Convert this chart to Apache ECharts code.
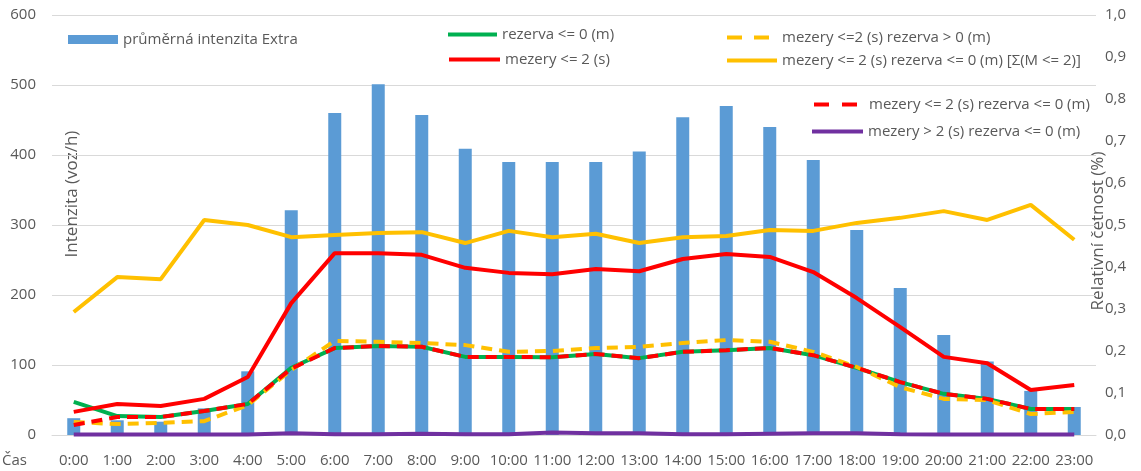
<!DOCTYPE html>
<html>
<head>
<meta charset="utf-8">
<script src="https://cdn.jsdelivr.net/npm/echarts@6/dist/echarts.min.js"></script>
<style>html,body{margin:0;padding:0;background:#fff}#c{width:1141px;height:471px}</style>
</head>
<body>
<div id="c"></div>
<script>
var hours = ['0:00','1:00','2:00','3:00','4:00','5:00','6:00','7:00','8:00','9:00','10:00','11:00','12:00','13:00','14:00','15:00','16:00','17:00','18:00','19:00','20:00','21:00','22:00','23:00'];
var leftTicks = [0, 600, 100];
var rightTicks = [0, 1, 0.1];
var intenzita = [24, 21, 19, 38, 91, 321, 460, 501, 457, 409, 390, 390, 390, 405, 454, 470, 440, 393, 293, 210, 143, 105, 63, 40];
var rezervaLe0 = [0.079, 0.045, 0.043, 0.057, 0.074, 0.160, 0.207, 0.212, 0.210, 0.186, 0.186, 0.185, 0.193, 0.183, 0.198, 0.202, 0.207, 0.190, 0.160, 0.126, 0.098, 0.086, 0.062, 0.062];
var mezeryLe2 = [0.055, 0.074, 0.069, 0.086, 0.138, 0.314, 0.433, 0.433, 0.429, 0.398, 0.386, 0.383, 0.395, 0.390, 0.419, 0.431, 0.424, 0.388, 0.326, 0.257, 0.186, 0.171, 0.107, 0.119];
var mezeryLe2RezGt0 = [0.031, 0.026, 0.029, 0.033, 0.071, 0.155, 0.224, 0.222, 0.219, 0.214, 0.198, 0.200, 0.207, 0.210, 0.219, 0.226, 0.222, 0.198, 0.162, 0.114, 0.086, 0.083, 0.050, 0.055];
var sumMLe2 = [0.293, 0.376, 0.371, 0.512, 0.500, 0.471, 0.476, 0.481, 0.483, 0.457, 0.486, 0.471, 0.479, 0.457, 0.471, 0.474, 0.488, 0.486, 0.505, 0.517, 0.533, 0.512, 0.548, 0.465];
var mezeryLe2RezLe0 = [0.024, 0.043, 0.043, 0.057, 0.074, 0.158, 0.207, 0.212, 0.210, 0.186, 0.186, 0.185, 0.193, 0.183, 0.198, 0.202, 0.207, 0.190, 0.160, 0.126, 0.098, 0.086, 0.062, 0.062];
var mezeryGt2RezLe0 = [0.001, 0.001, 0.001, 0.001, 0.001, 0.004, 0.002, 0.002, 0.003, 0.002, 0.002, 0.006, 0.004, 0.004, 0.002, 0.002, 0.003, 0.004, 0.004, 0.002, 0.001, 0.001, 0.001, 0.001];

var names = ['průměrná intenzita Extra', 'rezerva <= 0 (m)', 'mezery <= 2 (s)', 'mezery <=2 (s) rezerva > 0 (m)', 'mezery <= 2 (s) rezerva <= 0 (m) [Σ(M <= 2)]', 'mezery <= 2 (s) rezerva <= 0 (m)', 'mezery > 2 (s) rezerva <= 0 (m)'];
var FONT = '"Open Sans", sans-serif';
var TXT = '#595959';
var lt = {color: TXT, fontSize: 15, fontFamily: FONT};

function leg(name, left, cy, w, extra) {
  var o = {data: [name], left: left, top: cy - 8, itemWidth: w, itemHeight: 16, padding: 0, textStyle: lt, selectedMode: false,
           itemStyle: {opacity: 0}, lineStyle: {width: 4}};
  for (var k in extra) o[k] = extra[k];
  return o;
}

var chart = echarts.init(document.getElementById('c'));
chart.setOption({
  animation: false,
  backgroundColor: '#fff',
  grid: {left: 52, right: 45, top: 15, bottom: 36},
  legend: [
    leg(names[0], 68, 40, 50, {icon: 'rect', itemHeight: 9, top: 32, itemStyle: {opacity: 1}}),
    leg(names[1], 446, 35, 49, {}),
    leg(names[2], 447, 60, 51, {}),
    leg(names[3], 725, 38, 50, {lineStyle: {width: 4, type: [15, 12]}}),
    leg(names[4], 725, 61, 50, {}),
    leg(names[5], 812, 105, 50, {lineStyle: {width: 4, type: [15, 13]}}),
    leg(names[6], 810, 132, 51, {})
  ],
  xAxis: {
    type: 'category', data: hours, boundaryGap: true,
    axisLine: {lineStyle: {color: '#D9D9D9'}}, axisTick: {show: false},
    axisLabel: {color: TXT, fontSize: 15, fontFamily: FONT, margin: 18, interval: 0}
  },
  yAxis: [
    {type: 'value', min: leftTicks[0], max: leftTicks[1], interval: leftTicks[2],
     axisLine: {show: false}, axisTick: {show: false},
     axisLabel: {color: TXT, fontSize: 15, fontFamily: FONT, margin: 16},
     splitLine: {lineStyle: {color: '#D9D9D9', width: 1}}},
    {type: 'value', min: rightTicks[0], max: rightTicks[1], interval: rightTicks[2],
     axisLine: {show: false}, axisTick: {show: false}, splitLine: {show: false},
     axisLabel: {color: TXT, fontSize: 15, fontFamily: FONT, margin: 9,
       formatter: function (v) { return v.toFixed(1).replace('.', ','); }}}
  ],
  graphic: [
    {type: 'text', x: 72, y: 194, rotation: Math.PI / 2, style: {text: 'Intenzita (voz/h)', fill: TXT, font: '17px ' + FONT, textAlign: 'center', textVerticalAlign: 'middle'}},
    {type: 'text', x: 1098, y: 231, rotation: Math.PI / 2, style: {text: 'Relativní četnost (%)', fill: TXT, font: '17px ' + FONT, textAlign: 'center', textVerticalAlign: 'middle'}},
    {type: 'text', x: 2, y: 461, style: {text: 'Čas', fill: TXT, font: '15px ' + FONT, textAlign: 'left', textVerticalAlign: 'middle'}}
  ],
  series: [
    {name: names[0], type: 'bar', data: intenzita, yAxisIndex: 0, barWidth: 13, itemStyle: {color: '#5B9BD5'}},
    {name: names[1], type: 'line', data: rezervaLe0, yAxisIndex: 1, symbol: 'none', lineStyle: {color: '#00B050', width: 4}, itemStyle: {color: '#00B050'}},
    {name: names[2], type: 'line', data: mezeryLe2, yAxisIndex: 1, symbol: 'none', lineStyle: {color: '#FF0000', width: 4}, itemStyle: {color: '#FF0000'}},
    {name: names[3], type: 'line', data: mezeryLe2RezGt0, yAxisIndex: 1, symbol: 'none', lineStyle: {color: '#FFC000', width: 4, type: [11, 7]}, itemStyle: {color: '#FFC000'}},
    {name: names[4], type: 'line', data: sumMLe2, yAxisIndex: 1, symbol: 'none', lineStyle: {color: '#FFC000', width: 4}, itemStyle: {color: '#FFC000'}},
    {name: names[5], type: 'line', data: mezeryLe2RezLe0, yAxisIndex: 1, symbol: 'none', lineStyle: {color: '#FF0000', width: 4, type: [11, 7]}, itemStyle: {color: '#FF0000'}},
    {name: names[6], type: 'line', data: mezeryGt2RezLe0, yAxisIndex: 1, symbol: 'none', lineStyle: {color: '#7030A0', width: 4}, itemStyle: {color: '#7030A0'}}
  ]
});
</script>
</body>
</html>
